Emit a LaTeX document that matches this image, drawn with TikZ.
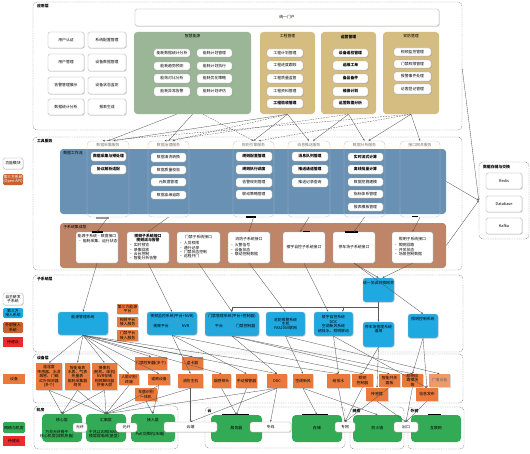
\documentclass[tikz,border=0pt]{standalone}
\usepackage{fontspec}
\newfontfamily\cjk{Noto Sans CJK SC}
\usetikzlibrary{shadows,arrows.meta}
\definecolor{sage}{HTML}{9BB597}
\definecolor{tanp}{HTML}{D5BD82}
\definecolor{bluep}{HTML}{6891B4}
\definecolor{brownp}{HTML}{BF8569}
\definecolor{sky}{HTML}{1FA9E1}
\definecolor{orng}{HTML}{E97A3B}
\definecolor{grn}{HTML}{33AA55}
\definecolor{redb}{HTML}{EE2B2B}
\definecolor{rust}{HTML}{C8612C}
\newcommand\bx[7]{\pgfmathsetmacro\bxw{(#4-#2)*0.75}\pgfmathsetmacro\bxh{(#5-#3)*0.75}\node[#6,minimum width=\bxw pt,minimum height=\bxh pt] (#1) at ({(#2+#4)/2},{(#3+#5)/2}) {#7};}
\tikzset{
 frame/.style={draw=black!50,dash pattern=on 0.7pt off 0.6pt,rounded corners=3pt,line width=0.35pt,inner sep=0pt},
 lbl/.style={anchor=north west,inner sep=0pt,font=\cjk\fontsize{2.9}{3.3}\selectfont\bfseries},
 wb/.style={fill=white,draw=black!35,line width=0.3pt,rounded corners=1.2pt,align=center,inner sep=0.3pt,
   drop shadow={opacity=0.35,shadow xshift=0.5pt,shadow yshift=-0.5pt}},
 panel/.style={rounded corners=2.5pt,draw=none,inner sep=0pt},
 colb/.style={draw=black!22,rounded corners=3pt,line width=0.3pt,inner sep=0pt},
 clbl/.style={anchor=north,inner sep=0pt,text=black!55},
 sb/.style={fill=sky,draw=black!30,rounded corners=2pt,line width=0.3pt,align=center,inner sep=0.3pt,
   drop shadow={opacity=0.3,shadow xshift=0.5pt,shadow yshift=-0.5pt}},
 sbi/.style={draw=black!45,rounded corners=1.5pt,line width=0.3pt,align=center,inner sep=0.3pt},
 ob/.style={fill=orng,draw=none,align=center,inner sep=0.3pt,
   drop shadow={opacity=0.3,shadow xshift=0.5pt,shadow yshift=-0.5pt}},
 gb/.style={fill=grn,draw=none,rounded corners=3pt,align=center,inner sep=0.3pt},
 txt/.style={inner sep=0pt,align=center},
 cn/.style={draw=black!65,line width=0.25pt,-{Stealth[length=1.6pt,width=1.3pt]}},
 cnd/.style={cn,dash pattern=on 1.2pt off 0.8pt},
 bar/.style={line width=0.9pt,black},
}
\begin{document}
\begin{tikzpicture}[x=0.75pt,y=-0.75pt,font=\cjk\fontsize{2.9}{3.3}\selectfont]
\useasboundingbox (0,0) rectangle (530,453);
\fill[white] (0,0) rectangle (530,453);

% ================= APP LAYER
\bx{Fapp}{33}{2}{462}{130}{frame}{}
\node[lbl] (LFapp) at ([xshift=3pt,yshift=-1.5pt]Fapp.north west) {应用层};
\bx{portal}{135}{9}{439}{26}{wb}{统一门户}
\bx{a1}{48}{32}{84}{48}{wb}{用户认证}
\bx{a2}{88}{32}{126}{48}{wb}{系统配置管理}
\bx{a3}{48}{54}{84}{71}{wb}{用户管理}
\bx{a4}{88}{54}{126}{71}{wb}{设备数据管理}
\bx{a5}{48}{77}{84}{94}{wb}{告警管理展示}
\bx{a6}{88}{77}{126}{94}{wb}{设备状态监测}
\bx{a7}{48}{99}{84}{115}{wb}{数据统计分析}
\bx{a8}{88}{99}{126}{115}{wb}{报表生成}

\bx{green}{134}{32}{251}{114}{panel,fill=sage}{}
\node[clbl,text=black] (Lgreen) at ([yshift=-2pt]green.north) {智慧能源};
\bx{g11}{154}{49}{190}{57}{wb}{能耗数据统计分析}
\bx{g12}{197}{49}{232}{57}{wb}{能耗计划管理}
\bx{g21}{154}{62}{190}{70}{wb}{能耗趋势预测}
\bx{g22}{197}{62}{232}{70}{wb}{能耗计划执行}
\bx{g31}{154}{74}{190}{83}{wb}{能效对比分析}
\bx{g32}{197}{74}{232}{83}{wb}{能耗优化策略}
\bx{g41}{154}{87}{190}{96}{wb}{能耗异常告警}
\bx{g42}{197}{87}{232}{96}{wb}{能耗计划评估}

\bx{tan1}{260}{32}{315}{114}{panel,fill=tanp}{}
\node[clbl,text=black] (Ltan1) at ([yshift=-2pt]tan1.north) {工程管理};
\bx{t11}{267}{49}{303}{57}{wb}{工程计划管理}
\bx{t12}{267}{61}{303}{70}{wb}{工程进度跟踪}
\bx{t13}{267}{74}{303}{83}{wb}{工程质量监管}
\bx{t14}{267}{87}{303}{96}{wb}{工程资料管理}
\bx{t15}{267}{99}{303}{108}{wb}{\bfseries 工程验收管理}

\bx{tan2}{321}{32}{376}{114}{panel,fill=tanp}{}
\node[clbl,text=black] (Ltan2) at ([yshift=-2pt]tan2.north) {\bfseries 运营管理};
\bx{t21}{333}{49}{368}{57}{wb}{\bfseries 设备巡检管理}
\bx{t22}{333}{61}{368}{70}{wb}{\bfseries 运维工单}
\bx{t23}{333}{74}{368}{83}{wb}{\bfseries 备品备件}
\bx{t24}{333}{87}{368}{96}{wb}{\bfseries 维保计划}
\bx{t25}{333}{99}{368}{108}{wb}{\bfseries 运营数据分析}

\bx{tan3}{383}{32}{439}{114}{panel,fill=tanp}{}
\node[clbl,text=black] (Ltan3) at ([yshift=-2pt]tan3.north) {安防管理};
\bx{t31}{394}{48}{431}{56}{wb}{视频监控管理}
\bx{t32}{394}{60}{431}{68}{wb}{门禁权限管理}
\bx{t33}{394}{72}{431}{81}{wb}{报警事件处理}
\bx{t34}{394}{84}{431}{94}{wb}{访客登记管理}

% ================= TOOL LAYER
\bx{Ftool}{33}{137}{462}{270}{frame}{}
\node[lbl] (LFtool) at ([xshift=3pt,yshift=-1.5pt]Ftool.north west) {工具服务};
\bx{blue}{60}{149}{446}{214}{panel,fill=bluep}{}
\node[lbl,font=\cjk\fontsize{2.9}{3.3}\selectfont] (Lblue) at ([xshift=2.5pt,yshift=-1.5pt]blue.north west) {数据工作流};
\bx{brown}{60}{223}{446}{268}{panel,fill=brownp}{}
\node[lbl,font=\cjk\fontsize{2.9}{3.3}\selectfont] (Lbrown) at ([xshift=2.5pt,yshift=-1.5pt]brown.north west) {子系统集成层};

\bx{c1}{87}{141}{129}{217}{colb}{}
\bx{c2}{148}{141}{189}{217}{colb}{}
\bx{c3}{233}{141}{274}{217}{colb}{}
\bx{c4}{288}{141}{330}{217}{colb}{}
\bx{c5}{344}{141}{385}{217}{colb}{}
\bx{c6}{400}{141}{440}{217}{colb}{}
\node[clbl] (Lc1) at ([yshift=-1.6pt]c1.north) {数据采集服务};
\node[clbl] (Lc2) at ([yshift=-1.6pt]c2.north) {数据治理服务};
\node[clbl] (Lc3) at ([yshift=-1.6pt]c3.north) {规则引擎服务};
\node[clbl] (Lc4) at ([yshift=-1.6pt]c4.north) {消息推送服务};
\node[clbl] (Lc5) at ([yshift=-1.6pt]c5.north) {数据分析服务};
\node[clbl] (Lc6) at ([yshift=-1.6pt]c6.north) {接口网关服务};

\bx{k11}{91}{152}{126}{161}{wb}{\bfseries 数据采集与预处理}
\bx{k12}{91}{165}{126}{174}{wb}{\bfseries 协议解析适配}
\bx{k21}{151}{153}{186}{162}{wb}{数据清洗转换}
\bx{k22}{151}{166}{186}{174}{wb}{数据质量校验}
\bx{k23}{151}{178}{186}{186}{wb}{元数据管理}
\bx{k24}{151}{191}{186}{199}{wb}{数据血缘追踪}
\bx{k31}{236}{152}{272}{161}{wb}{\bfseries 规则配置管理}
\bx{k32}{236}{165}{272}{174}{wb}{\bfseries 规则执行调度}
\bx{k33}{236}{178}{272}{187}{wb}{告警规则管理}
\bx{k34}{236}{190}{272}{199}{wb}{联动策略管理}
\bx{k41}{292}{152}{328}{161}{wb}{\bfseries 消息队列管理}
\bx{k42}{292}{165}{328}{174}{wb}{\bfseries 推送通道管理}
\bx{k43}{292}{178}{328}{187}{wb}{推送记录查询}
\bx{k51}{348}{153}{383}{161}{wb}{\bfseries 实时流式计算}
\bx{k52}{348}{165}{383}{174}{wb}{\bfseries 离线批量计算}
\bx{k53}{348}{178}{383}{186}{wb}{数据挖掘建模}
\bx{k54}{348}{190}{383}{198}{wb}{指标体系管理}
\bx{k55}{348}{203}{383}{211}{wb}{报表模板管理}

\bx{b1}{76}{232}{118}{263}{wb}{}
\bx{b2}{127}{232}{169}{263}{wb}{}
\bx{b3}{177}{232}{220}{263}{wb}{}
\bx{b4}{228}{232}{270}{263}{wb}{}
\bx{b5}{283}{232}{325}{263}{wb}{楼宇自控子系统接口}
\bx{b6}{333}{232}{375}{263}{wb}{停车场子系统接口}
\bx{b7}{392}{232}{433}{263}{wb}{}
\node[clbl,text=black] (Tb1) at ([yshift=-1.5pt]b1.north) {能源子系统·数据接口};
\node[anchor=north west,inner sep=0pt,align=left] (Ub1) at ([xshift=1.5pt,yshift=-5.5pt]b1.north west) {• 能耗采集、运行状态};
\node[clbl,text=black,align=center] (Tb2) at ([yshift=-1.5pt]b2.north) {\bfseries 视频子系统接口\\\bfseries 视频流与告警};
\node[anchor=north west,inner sep=0pt,align=left] (Ub2) at ([xshift=1.5pt,yshift=-8.5pt]b2.north west) {• 实时预览\\• 录像回放\\• 云台控制\\• 智能分析告警};
\node[clbl,text=black] (Tb3) at ([yshift=-2.5pt]b3.north) {门禁子系统接口};
\node[anchor=north west,inner sep=0pt,align=left] (Ub3) at ([xshift=1.5pt,yshift=-7pt]b3.north west) {• 人员权限\\• 通行记录\\• 门禁状态控制\\• 远程开门};
\node[clbl,text=black] (Tb4) at ([yshift=-4pt]b4.north) {消防子系统接口};
\node[anchor=north west,inner sep=0pt,align=left] (Ub4) at ([xshift=1.5pt,yshift=-8.5pt]b4.north west) {• 火警信号\\• 设备状态\\• 联动控制数据};
\node[clbl,text=black] (Tb7) at ([yshift=-4pt]b7.north) {照明子系统接口};
\node[anchor=north west,inner sep=0pt,align=left] (Ub7) at ([xshift=1.5pt,yshift=-8.5pt]b7.north west) {• 照明回路\\• 开关状态\\• 场景控制数据};

% storage
\bx{store}{479}{162}{529}{239}{frame}{}
\node[lbl] (Lstore) at ([xshift=3pt,yshift=-2pt]store.north west) {数据存储与交换};
\bx{s1}{486}{173}{522}{189}{wb}{Redis}
\bx{s2}{486}{196}{522}{212}{wb}{Database}
\bx{s3}{486}{218}{522}{234}{wb}{Kafka}

% legends
\bx{lg1}{3}{158}{23}{169}{wb}{功能模块}
\bx{lg2}{3}{174}{23}{185}{panel,fill=rust,rounded corners=1pt,text=white,align=center}{第三方系统\\(Open API)}
\bx{lg3}{3}{293}{23}{305}{wb}{自主研发\\子系统}
\bx{lg4}{3}{308}{23}{318}{panel,fill=sky,rounded corners=1pt,align=center}{第三方\\接入系统}
\bx{lg5}{3}{322}{23}{333}{panel,fill=rust,rounded corners=1pt,align=center}{外部接入\\系统}
\bx{lg6}{3}{337}{23}{347}{panel,fill=redb,rounded corners=0pt}{待建设}
\bx{lg7}{3}{374}{25}{384}{panel,fill=orng,rounded corners=0pt}{设备}
\bx{lg8}{3}{422}{25}{433}{panel,fill=grn,rounded corners=1pt,align=center}{网络与机房}
\bx{lg9}{3}{436}{25}{446}{panel,fill=redb,rounded corners=0pt}{待建设}

% ================= SUBSYSTEM LAYER
\bx{Fsub}{33}{275}{463}{352}{frame}{}
\node[lbl] (LFsub) at ([xshift=3pt,yshift=-1.5pt]Fsub.north west) {子系统层};
\bx{B1}{58}{312}{108}{335}{sb}{}
\node[clbl,text=black] (TB1) at ([yshift=-2pt]B1.north) {能源管理系统};
\bx{r1}{117}{304}{138}{314}{ob}{第三方能源\\平台}
\bx{r2}{117}{317}{138}{327}{ob}{视频平台\\接入服务}
\bx{r3}{117}{330}{138}{341}{ob}{门禁平台\\接入服务}
\bx{B2}{147}{312}{197}{335}{sb}{}
\node[clbl,text=black] (TB2) at ([yshift=-1.5pt]B2.north) {视频监控系统(平台+NVR)};
\bx{B2a}{150}{321}{172}{332}{sbi}{视频平台}
\bx{B2b}{176}{321}{195}{332}{sbi}{NVR}
\bx{B3}{205}{312}{259}{336}{sb}{}
\node[clbl,text=black] (TB3) at ([yshift=-1.5pt]B3.north) {门禁管理系统(平台+控制器)};
\bx{B3a}{209}{321}{229}{332}{sbi}{平台}
\bx{B3b}{235}{321}{256}{332}{sbi}{门禁控制器}
\bx{B4}{266}{312}{305}{336}{sb}{消防报警系统\\主机\\FAS2000联网}
\bx{B5}{314}{312}{353}{336}{sb}{楼宇自控系统\\DDC\\空调新风系统\\给排水、照明联动}
\bx{B6}{363}{278}{394}{302}{sb}{}
\node[clbl,text=black] (TB6) at ([yshift=-2pt]B6.north) {统一协议转换网关};
\bx{B7}{363}{322}{394}{347}{sb}{}
\node[clbl,text=black,align=center] (TB7) at ([yshift=-2pt]B7.north) {停车场管理系统\\道闸};
\bx{B8}{408}{314}{438}{338}{sb}{}
\node[clbl,text=black] (TB8) at ([yshift=-2pt]B8.north) {照明控制系统};

% ================= DEVICE LAYER
\bx{Fdev}{33}{354}{463}{403}{frame}{}
\node[lbl] (LFdev) at ([xshift=3pt,yshift=-1.5pt]Fdev.north west) {设备层};
\bx{d1}{36}{363}{62}{390}{ob}{温湿度\\传感器、水浸\\烟感、门磁\\红外探测器\\(多个)}
\bx{d2}{65}{363}{90}{390}{ob}{智能电表\\水表、气表\\热量表\\能耗采集器\\网关}
\bx{d3}{92}{363}{117}{390}{ob}{摄像机\\(枪机、球机)\\NVR存储\\视频解码器\\拼接大屏}
\bx{dt1}{135}{357}{167}{370}{ob}{门禁控制器(多个)}
\bx{dt2}{182}{357}{203}{370}{ob}{读卡器}
\bx{d4}{119}{374}{139}{385}{ob}{人脸识别\\终端}
\bx{d5}{148}{374}{170}{385}{ob}{道闸设备}
\bx{d6}{135}{388}{157}{401}{ob}{车牌识别\\一体机}
\bx{d7}{178}{374}{203}{388}{ob}{消防主机}
\bx{d8}{212}{374}{231}{388}{ob}{烟感探头}
\bx{d9}{236}{374}{257}{388}{ob}{手动报警器}
\bx{d10}{267}{374}{287}{388}{ob}{DDC}
\bx{d11}{293}{374}{313}{388}{ob}{空调新风}
\bx{d12}{327}{374}{350}{388}{ob}{给排水}
\bx{d13}{352}{374}{373}{387}{ob}{照明\\控制器}
\bx{d14}{379}{374}{400}{387}{ob}{智能开关\\面板}
\bx{d15}{402}{374}{423}{387}{ob}{照明回\\路模块\\等}
\bx{d16}{429}{374}{450}{387}{ob,fill=orng!75,text=black!60}{广播设备}
\bx{d17}{366}{388}{388}{401}{ob}{传感器}
\bx{d18}{416}{388}{438}{401}{ob}{信息发布}

% ================= HARDWARE
\bx{H1}{34}{406}{178}{449}{frame}{}
\node[lbl] (LH1) at ([xshift=2pt,yshift=-1.5pt]H1.north west) {机房};
\bx{H2}{205}{407}{345}{448}{frame}{}
\node[lbl] (LH2) at ([xshift=2pt,yshift=-1.5pt]H2.north west) {云};
\bx{H3}{350}{407}{404}{449}{frame}{}
\node[lbl] (LH3) at ([xshift=2pt,yshift=-1.5pt]H3.north west) {网络};
\bx{H4}{408}{407}{464}{449}{frame}{}
\node[lbl] (LH4) at ([xshift=2pt,yshift=-1.5pt]H4.north west) {外网};
\bx{G1}{42}{414}{82}{442}{gb}{}
\node[clbl,text=black] (TG1) at ([yshift=-3pt]G1.north) {核心层};
\node[txt] (UG1) at (57,434) {万兆光纤骨干\\核心机房(双机热备)};
\bx{G2}{86}{414}{126}{442}{gb}{}
\node[clbl,text=black] (TG2) at ([yshift=-3pt]G2.north) {汇聚层};
\node[txt] (UG2) at (104,434) {千兆以太网(MAN)\\楼层弱电间(星型)};
\bx{G3}{131}{414}{175}{442}{gb}{}
\node[clbl,text=black] (TG3) at ([yshift=-3pt]G3.north) {接入层};
\node[txt] (UG3) at (150,434) {PoE交换机(末端)};
\bx{G4}{211}{415}{262}{442}{gb}{服务器}
\bx{G5}{292}{415}{342}{442}{gb}{存储}
\bx{G6}{353}{415}{402}{442}{gb}{防火墙}
\bx{G7}{411}{415}{461}{442}{gb}{互联网}
\bx{W1}{73}{423}{87}{432}{wb}{光纤}
\bx{W2}{116}{423}{137}{432}{wb}{光纤}
\bx{W3}{164}{422}{217}{432}{wb}{云端}
\bx{W4}{250}{422}{291}{432}{wb}{专线}
\bx{W5}{335}{422}{355}{432}{wb}{专网}
\bx{W6}{394}{422}{418}{432}{wb}{出口}

% black bars
\draw[bar] (222,414.3) -- (249,414.3);
\draw[bar] (302,414.8) -- (328,414.8);
\draw[bar] (428,414.8) -- (441,414.8);
\draw[bar] (246,217) -- (256,217);
\draw[bar] (303,231.6) -- (310,231.6);
\draw[bar] (412,216.5) -- (418,216.5);
\draw[bar] (345,232) -- (358,232);
\draw[bar,black!40] (96,218) -- (109,218);
\draw[bar] (92,232) -- (103,232);

% ================= CONNECTORS
% app -> tool columns
\draw[cn] ([xshift=-12pt]green.south) -- (c1.north);
\draw[cn] (green.south) -- (c2.north);
\draw[cnd] ([xshift=8pt]green.south) -- (c3.north);
\draw[cn] (tan1.south) -- ([xshift=4pt]c1.north);
\draw[cnd] (tan1.south) -- ([xshift=3pt]c2.north);
\draw[cn] (tan1.south) -- (c3.north);
\draw[cn] (tan1.south) -- (c4.north);
\draw[cnd] (tan2.south) -- ([xshift=-3pt]c2.north);
\draw[cn] (tan2.south) -- ([xshift=3pt]c4.north);
\draw[cn] (tan2.south) -- (c5.north);
\draw[cnd] (tan3.south) -- ([xshift=4pt]c3.north);
\draw[cn] (tan3.south) -- ([xshift=3pt]c5.north);
\draw[cn] (tan3.south) -- (c6.north);
\draw[cnd] (tan3.south) -- ([xshift=-4pt]c1.north);
% storage
\draw[cn] ([yshift=-2pt]Fapp.east) -- (store.west);
\draw[cn] (blue.east) -- (store.west);
\draw[cn] (brown.east) -- (store.west);
% columns -> integration boxes
\draw[cn] (c1.south) -- (b1.north);
\draw[cn] (c2.south) -- (b2.north);
\draw[cn] (c3.south) -- (b4.north);
\draw[cn] (c4.south) -- ([xshift=-3pt]b5.north);
\draw[cn] (c5.south) -- (b6.north);
\draw[cn] (c6.south) -- (b7.north);
% integration -> subsystems
\draw[cn] (b1.south) -- (B1.north);
\draw[cn] (b2.south) -- (B2.north);
\draw[cn] (b3.south) -- (B3.north);
\draw[cn] (b4.south) -- (B4.north);
\draw[cn] (b5.south) -- ([xshift=-4pt]B5.north);
\draw[cn] (b6.south) -- (B8.north);
\draw[cn] (b6.south) -- (B6.north);
\draw[cn] (b7.south) -- ([xshift=3pt]B6.north);
\draw[cn] (B6.south) |- ([yshift=3.75pt]B3.north) -- (B3.north);
\draw[cn] ([xshift=7pt,yshift=3.75pt]B5.north) -- ([xshift=7pt]B5.north);
\draw[cn] (B6.south) -- (B7.north);
% subsystems -> devices
\foreach \t in {d1,d2,d3,d4,dt1,d5,dt2,d8,d10,d12}{\draw[cn] (B1.south) -- (\t.north);}
\foreach \t in {d7,d9,d13}{\draw[cn] (B2.south) -- (\t.north);}
\foreach \t in {d10,d14,d15}{\draw[cn] (B3.south) -- (\t.north);}
\foreach \t in {d11,d16}{\draw[cn] (B4.south) -- (\t.north);}
\foreach \t in {d12,d18}{\draw[cn] (B5.south) -- (\t.north);}
\foreach \t in {d13,d17}{\draw[cn] (B7.south) -- (\t.north);}
\foreach \t in {d15,d18}{\draw[cn] (B8.south) -- (\t.north);}
% devices -> hardware
\foreach \s in {d1,d2,d3}{\draw[cn] (\s.south) -- (G1.north);}
\foreach \s in {d1,d2,d3,d4,d5,d7,d10}{\draw[cn] (\s.south) -- (G2.north);}
\foreach \s in {d5,d6}{\draw[cn] (\s.south) -- (G3.north);}
\draw[cn] (d7.south) -- (W3.north);
\draw[cn] (d10.south) -- (W3.north);
\draw[cn] (d8.south) -- (G4.north);
\draw[cn] (d9.south) -- (G4.north);
\draw[cn] (d10.south) -- (W4.north);
\draw[cn] (d11.south) -- (G5.north);
\draw[cn] (d12.south) -- (W5.north);
\draw[cn] (d13.south) -- (W5.north);
\draw[cn] (d14.south) -- (W5.north);
\draw[cn] (d11.south) -- (G6.north);
\draw[cn] (d15.south) -- (W6.north);
\draw[cn] (d17.south) -- (W6.north);
\draw[cn] (d18.south) -- (W6.north);
\end{tikzpicture}
\end{document}
